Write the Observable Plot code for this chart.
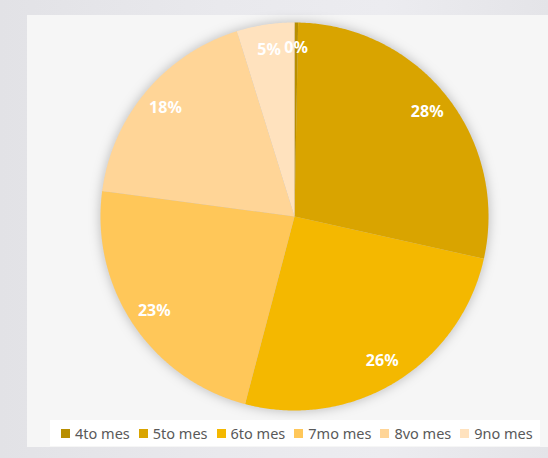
<!DOCTYPE html>
<html><head><meta charset="utf-8">
<script src="https://cdn.jsdelivr.net/npm/d3@7"></script>
<script src="https://cdn.jsdelivr.net/npm/@observablehq/plot@0.6"></script>
<style>
html,body{margin:0;padding:0;}
body{width:548px;height:458px;overflow:hidden;position:relative;font-family:"Noto Sans",sans-serif;
  background:linear-gradient(90deg,#e2e2e6 0%,#e9e9ed 40%,#ececf0 70%,#e4e4e8 100%);}
#panel{position:absolute;left:27px;top:15px;width:521px;height:432px;background:#f6f6f6;}
#chart{position:absolute;left:100px;top:22px;width:388px;height:388px;}
#chart svg{overflow:visible;}
#chart svg g[aria-label="line"]{filter:drop-shadow(0 0 6px rgba(0,0,0,0.25));}
#legend{position:absolute;left:50px;top:420px;width:490px;height:26px;background:#fff;display:flex;align-items:center;gap:9px;padding-left:11px;box-sizing:border-box;font-size:14.5px;color:#595959;}
.item{display:flex;align-items:center;white-space:nowrap;}
.sw{width:9px;height:9px;margin-right:5px;display:inline-block;}
</style>
</head><body>
<div id="panel"></div>
<div id="chart"></div>
<div id="legend"></div>
<script>
const categories = ["4to mes","5to mes","6to mes","7mo mes","8vo mes","9no mes"];
const values = [0.3, 28.2, 25.6, 23.0, 18.1, 4.8];
const labels = ["0%","28%","26%","23%","18%","5%"];
const colors = ["#B88E00","#D9A400","#F4B800","#FFC759","#FFD597","#FFE2BE"];

const arcs = d3.pie().sort(null).value(d => d.value)(categories.map((c, i) => ({cat: c, value: values[i], label: labels[i]})));

const pts = [];
for (const a of arcs) {
  const cat = a.data.cat;
  pts.push({cat, x: 0, y: 0});
  const n = Math.max(2, Math.ceil((a.endAngle - a.startAngle) / (Math.PI / 360)));
  for (let k = 0; k <= n; k++) {
    const t = a.startAngle + (a.endAngle - a.startAngle) * k / n;
    pts.push({cat, x: Math.sin(t), y: Math.cos(t)});
  }
  pts.push({cat, x: 0, y: 0});
}
const lab = arcs.map(a => {
  const m = (a.startAngle + a.endAngle) / 2;
  const r = 0.87;
  return {x: r * Math.sin(m), y: r * Math.cos(m), text: a.data.label};
});

const plot = Plot.plot({
  width: 388, height: 388, margin: 0,
  x: {domain: [-1, 1], axis: null},
  y: {domain: [-1, 1], axis: null},
  color: {domain: categories, range: colors},
  style: {background: "transparent", fontFamily: "Noto Sans", overflow: "visible"},
  marks: [
    Plot.line(pts, {x: "x", y: "y", z: "cat", fill: "cat", stroke: null, curve: "linear"}),
    Plot.text(lab, {x: "x", y: "y", text: "text", fill: "white", fontWeight: "bold", fontSize: 16})
  ]
});
document.getElementById("chart").appendChild(plot);

const leg = document.getElementById("legend");
categories.forEach((c, i) => {
  const it = document.createElement("div");
  it.className = "item";
  it.innerHTML = `<span class="sw" style="background:${colors[i]}"></span><span>${c}</span>`;
  leg.appendChild(it);
});
</script>
</body></html>
